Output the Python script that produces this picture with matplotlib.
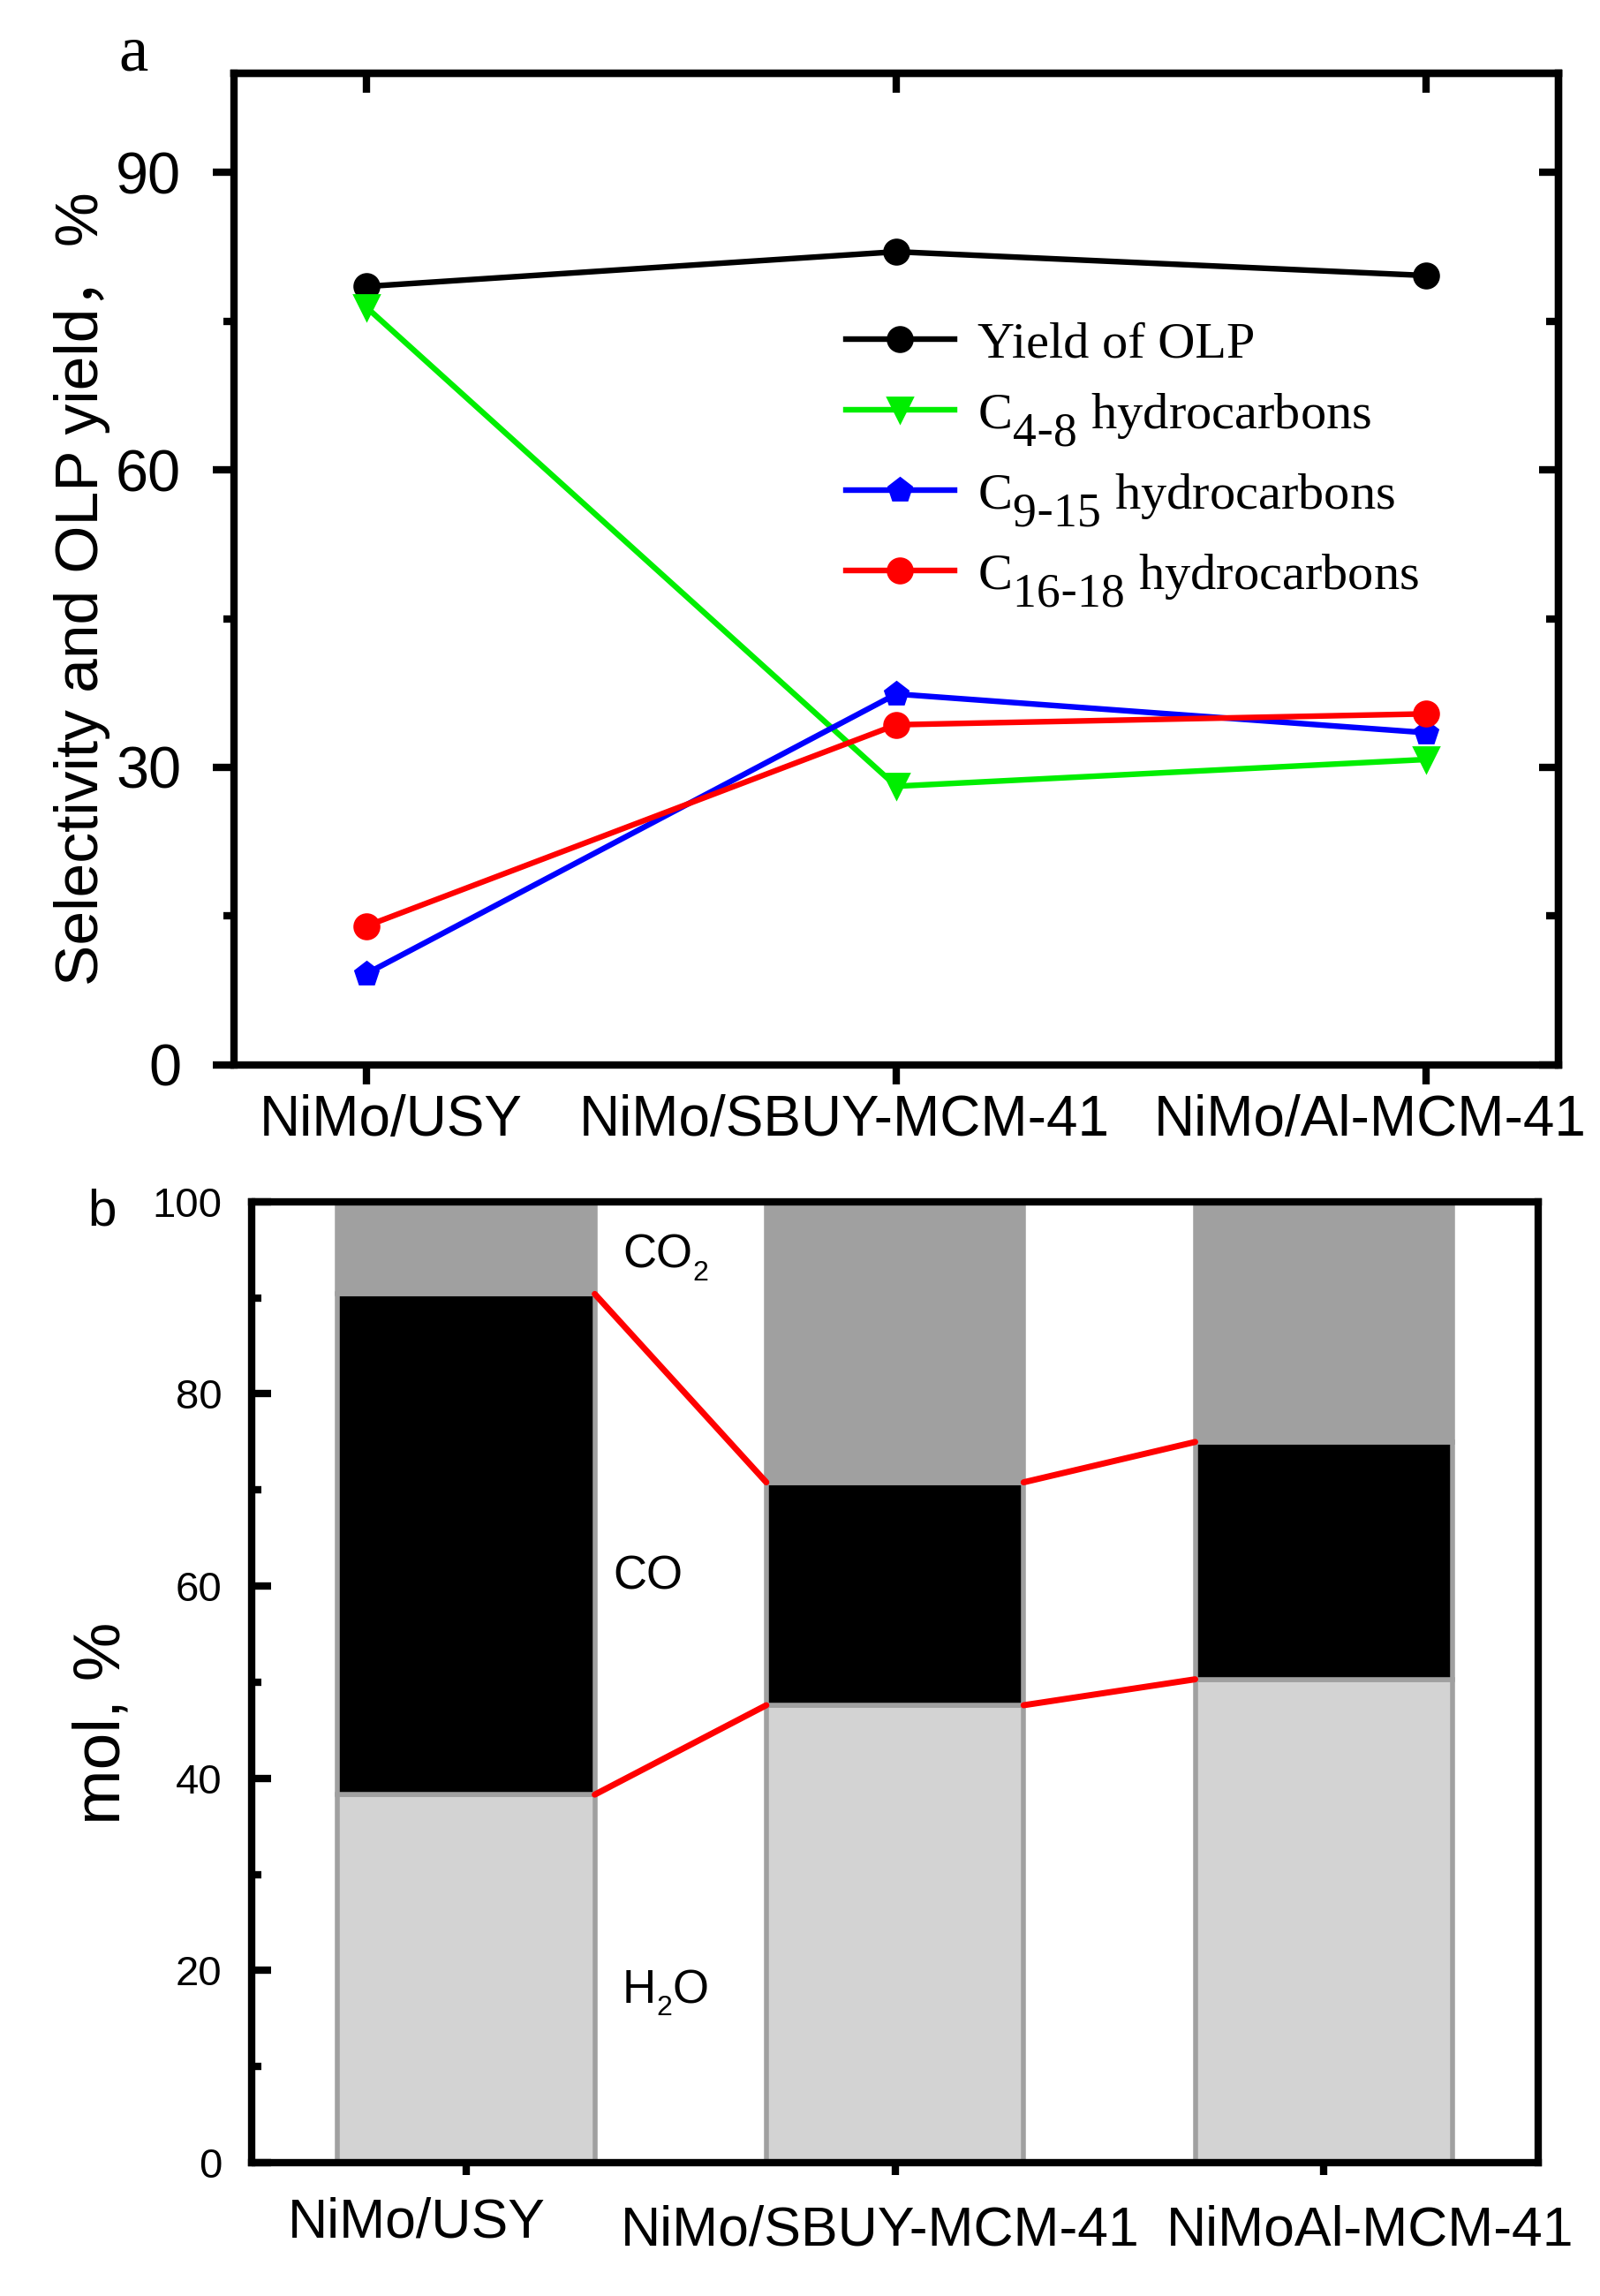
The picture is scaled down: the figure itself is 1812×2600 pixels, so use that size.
import matplotlib
matplotlib.use("Agg")
import matplotlib.pyplot as plt
import matplotlib.transforms as mtransforms
import matplotlib._mathtext as mathtext_internals
from matplotlib.ticker import FixedLocator

# panel a data
catalysts_a = ["NiMo/USY", "NiMo/SBUY-MCM-41", "NiMo/Al-MCM-41"]
yield_olp = [78.5, 82.0, 79.6]
c4_8 = [76.4, 28.1, 30.8]
c9_15 = [9.2, 37.4, 33.5]
c16_18 = [14.0, 34.3, 35.4]

# panel b data
catalysts_b = ["NiMo/USY", "NiMo/SBUY-MCM-41", "NiMoAl-MCM-41"]
h2o = [38.3, 47.6, 50.3]
co = [52.1, 23.2, 24.7]
co2 = [9.6, 29.2, 25.0]

SANS = ["Liberation Sans", "Noto Sans CJK SC", "DejaVu Sans"]
SERIF = ["Liberation Serif", "DejaVu Serif"]
plt.rcParams["font.family"] = SANS
plt.rcParams["mathtext.default"] = "regular"
# the legend subscripts in the original are nearly full size and sit low
mathtext_internals.SHRINK_FACTOR = 0.92
mathtext_internals.FontConstantsBase.sub1 = 0.8

fig = plt.figure(figsize=(9.06, 13), dpi=200)
SPW = 3.0

def shift_labels(ax, fig, offsets):
    for lab, (dx, dy) in zip(ax.get_xticklabels(), offsets):
        lab.set_transform(lab.get_transform() +
                          mtransforms.ScaledTranslation(dx / 72, dy / 72, fig.dpi_scale_trans))

# ---------------- panel a ----------------
ax1 = fig.add_axes([0.1462, 0.5362, 0.828, 0.4319])
xa = list(range(len(catalysts_a)))
series = [
    (yield_olp, "black", "o", "Yield of OLP"),
    (c4_8, "#00ee00", "v", r"C$_{4\text{-}8}$ hydrocarbons"),
    (c9_15, "#0000ff", "p", r"C$_{9\text{-}15}$ hydrocarbons"),
    (c16_18, "#ff0000", "o", r"C$_{16\text{-}18}$ hydrocarbons"),
]
for vals, col, mk, lab in series:
    ax1.plot(xa, vals, color=col, marker=mk, markersize=10, lw=2.3, label=lab,
             markeredgecolor=col)
ax1.set_xlim(-0.25, 2.25)
ax1.set_ylim(0, 100)
ax1.set_xticks(xa)
ax1.set_xticklabels(catalysts_a, fontsize=23)
ax1.set_yticks([0, 30, 60, 90])
ax1.yaxis.set_minor_locator(FixedLocator([15, 45, 75]))
ax1.tick_params(axis="y", which="major", direction="out", length=8.5, width=SPW, labelsize=24, pad=13)
ax1.tick_params(axis="y", which="minor", direction="out", length=4.4, width=SPW)
ax1.tick_params(axis="x", direction="out", length=8, width=SPW, pad=4)
for s in ax1.spines.values():
    s.set_linewidth(SPW)
shift_labels(ax1, fig, [(10, 0), (-21, 0), (-23, 0)])

right = ax1.secondary_yaxis("right")
right.set_yticks([0, 30, 60, 90])
right.yaxis.set_minor_locator(FixedLocator([15, 45, 75]))
right.tick_params(axis="y", which="major", direction="in", length=8, width=SPW, labelright=False)
right.tick_params(axis="y", which="minor", direction="in", length=5, width=SPW)
right.spines["right"].set_linewidth(SPW)

top = ax1.secondary_xaxis("top")
top.set_xticks(xa)
top.tick_params(axis="x", direction="in", length=8, width=SPW, labeltop=False)
top.spines["top"].set_linewidth(SPW)

ax1.set_ylabel("Selectivity and OLP yield，%", fontsize=25, family=SANS)
ax1.yaxis.set_label_coords(-0.093, 0.48)

leg = ax1.legend(loc="upper left", bbox_to_anchor=(0.462, 0.75), frameon=False,
                 prop={"family": SERIF, "size": 21}, handlelength=2.1, handletextpad=0.45,
                 borderaxespad=0, borderpad=0, labelspacing=0.45, numpoints=1)

fig.text(151 / 1812, 1 - 62 / 2600, "a", family=SERIF, fontsize=27, ha="center", va="center")

# ---------------- panel b ----------------
ax2 = fig.add_axes([0.1573, 0.0581, 0.8041, 0.4185])
xb = list(range(len(catalysts_b)))
w = 0.6
edge = "#a0a0a0"
bottom_co = h2o
bottom_co2 = [a + b for a, b in zip(h2o, co)]
ax2.bar(xb, h2o, width=w, color="#d3d3d3", edgecolor=edge, linewidth=2.0)
ax2.bar(xb, co, width=w, bottom=bottom_co, color="black", edgecolor=edge, linewidth=2.0)
ax2.bar(xb, co2, width=w, bottom=bottom_co2, color="#a0a0a0", edgecolor=edge, linewidth=2.0)

for i in range(len(xb) - 1):
    ax2.plot([xb[i] + w / 2, xb[i + 1] - w / 2], [h2o[i], h2o[i + 1]], color="#ff0000", lw=2.5,
             solid_capstyle="round")
    ax2.plot([xb[i] + w / 2, xb[i + 1] - w / 2], [bottom_co2[i], bottom_co2[i + 1]], color="#ff0000",
             lw=2.5, solid_capstyle="round")

# species labels (subscripts drawn as separate smaller text)
ax2.text(0.365, 93.1, "CO", fontsize=19, va="baseline", ha="left")
ax2.annotate("2", xy=(0.365, 93.1), xytext=(28.5, -5), textcoords="offset points",
             fontsize=11.5, va="baseline", ha="left")
ax2.text(0.342, 59.7, "CO", fontsize=19, va="baseline", ha="left")
ax2.text(0.363, 16.6, "H", fontsize=19, va="baseline", ha="left")
ax2.annotate("2", xy=(0.363, 16.6), xytext=(14, -5), textcoords="offset points",
             fontsize=11.5, va="baseline", ha="left")
ax2.annotate("O", xy=(0.363, 16.6), xytext=(20.5, 0), textcoords="offset points",
             fontsize=19, va="baseline", ha="left")

ax2.set_xlim(-0.5, 2.5)
ax2.set_ylim(0, 100)
ax2.set_xticks(xb)
ax2.set_xticklabels(catalysts_b, fontsize=22.5)
ax2.set_yticks([0, 20, 40, 60, 80, 100])
ax2.yaxis.set_minor_locator(FixedLocator([10, 30, 50, 70, 90]))
ax2.tick_params(axis="y", which="major", direction="in", length=8, width=SPW, labelsize=17, pad=12)
ax2.tick_params(axis="y", which="minor", direction="in", length=4, width=SPW)
ax2.tick_params(axis="x", direction="out", length=5, width=SPW, pad=12)
for s in ax2.spines.values():
    s.set_linewidth(SPW)
shift_labels(ax2, fig, [(-20, 3), (-6, 0), (19, 0)])

ax2.set_ylabel("mol, %", fontsize=27)
ax2.yaxis.set_label_coords(-0.092, 0.457)

fig.text(116 / 1812, 1 - 1373 / 2600, "b", fontsize=21, ha="center", va="center")

fig.savefig("out.png", dpi=200)
